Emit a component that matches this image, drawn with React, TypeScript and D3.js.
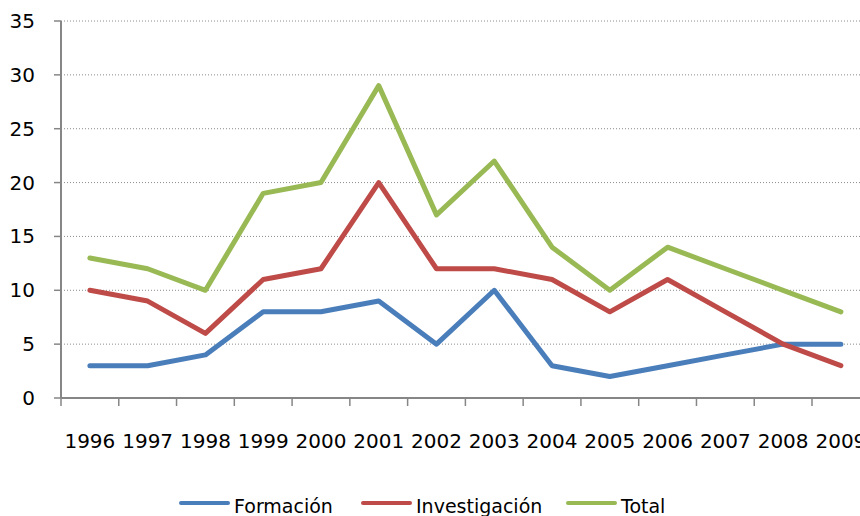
import * as d3 from 'd3';

const years = ['1996', '1997', '1998', '1999', '2000', '2001', '2002', '2003', '2004', '2005', '2006', '2007', '2008', '2009'];
const formacion = [3, 3, 4, 8, 8, 9, 5, 10, 3, 2, 3, 4, 5, 5];
const investigacion = [10, 9, 6, 11, 12, 20, 12, 12, 11, 8, 11, 8, 5, 3];
const total = [13, 12, 10, 19, 20, 29, 17, 22, 14, 10, 14, 12, 10, 8];
const yTicks = [0, 5, 10, 15, 20, 25, 30, 35];

const series = [
  { name: 'Formación', color: '#4A7EBB', values: formacion, legendX: 181 },
  { name: 'Investigación', color: '#BE4B48', values: investigacion, legendX: 363 },
  { name: 'Total', color: '#98B954', values: total, legendX: 568 },
];

const font = '"DejaVu Sans", sans-serif';

export default function App() {
  const left = 61;
  const x = d3.scaleBand().domain(years).range([left, left + 14 * 57.77]);
  const y = d3.scaleLinear().domain([0, 35]).range([398, 21]);
  const line = d3
    .line<number>()
    .x((_, i) => (x(years[i]) as number) + x.bandwidth() / 2)
    .y((d) => y(d));

  return (
    <svg
      width={860}
      height={516}
      style={{ position: 'absolute', left: 0, top: 0, background: '#fff' }}
      fontFamily={font}
    >
      {/* gridlines */}
      {yTicks.filter((t) => t > 0).map((t) => (
        <line key={t} x1={left} x2={860} y1={y(t)} y2={y(t)} stroke="#8c8c8c" strokeWidth={1} strokeDasharray="1 2" />
      ))}
      {/* y axis */}
      <line x1={left} x2={left} y1={y(35)} y2={y(0)} stroke="#868686" strokeWidth={2} />
      {yTicks.map((t) => (
        <g key={t}>
          <line x1={left - 7} x2={left} y1={y(t)} y2={y(t)} stroke="#868686" strokeWidth={1.5} />
          <text x={35} y={y(t)} dy="0.35em" textAnchor="end" fontSize={20} fill="#000">
            {t}
          </text>
        </g>
      ))}
      {/* x axis */}
      <line x1={left} x2={860} y1={y(0)} y2={y(0)} stroke="#868686" strokeWidth={2} />
      {years.map((yr) => (
        <g key={yr}>
          <line x1={x(yr)} x2={x(yr)} y1={y(0)} y2={y(0) + 8} stroke="#868686" strokeWidth={1.5} />
          <text x={(x(yr) as number) + x.bandwidth() / 2} y={448} textAnchor="middle" fontSize={20} fill="#000">
            {yr}
          </text>
        </g>
      ))}
      {/* lines */}
      {series.map((s) => (
        <path
          key={s.name}
          d={line(s.values) || ''}
          fill="none"
          stroke={s.color}
          strokeWidth={5}
          strokeLinejoin="round"
          strokeLinecap="round"
        />
      ))}
      {/* legend */}
      {series.map((s) => (
        <g key={s.name}>
          <line x1={s.legendX} x2={s.legendX + 47} y1={503} y2={503} stroke={s.color} strokeWidth={4} strokeLinecap="round" />
          <text x={s.legendX + 53} y={513} fontSize={19} fill="#000">
            {s.name}
          </text>
        </g>
      ))}
    </svg>
  );
}
